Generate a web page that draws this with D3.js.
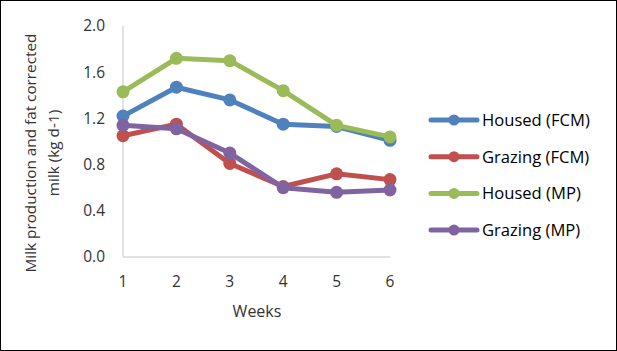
<!DOCTYPE html>
<html><head><meta charset="utf-8">
<script src="https://cdn.jsdelivr.net/npm/d3@7"></script>
<style>body{margin:0;background:#fff;}svg{display:block;font-family:"Open Sans",Calibri,sans-serif;}</style>
</head><body>
<script>
const weeks = [1,2,3,4,5,6];
const seriesNames = ["Housed (FCM)","Grazing (FCM)","Housed (MP)","Grazing (MP)"];
const housedFCM = [1.22,1.47,1.36,1.15,1.13,1.01];
const grazingFCM = [1.05,1.15,0.81,0.61,0.72,0.67];
const housedMP = [1.43,1.72,1.70,1.44,1.14,1.04];
const grazingMP = [1.14,1.11,0.90,0.60,0.56,0.58];
const yTicks = [0.0,0.4,0.8,1.2,1.6,2.0];
const colors = ["#4F81BD","#C0504D","#9BBB59","#8064A2"];
const allValues = [housedFCM,grazingFCM,housedMP,grazingMP];

const W=617,H=351;
const svg=d3.select("body").append("svg").attr("width",W).attr("height",H);
svg.append("rect").attr("x",0.5).attr("y",0.5).attr("width",W-1).attr("height",H-1).attr("fill","#fff").attr("stroke","#000");

const x=d3.scalePoint().domain(weeks).range([123,390]);
const y=d3.scaleLinear().domain([0,2]).range([257,26]);
const txt="#333";

const g=svg.append("g");
g.append("line").attr("x1",x(1)).attr("x2",x(1)).attr("y1",y(2)).attr("y2",y(0)).attr("stroke","#d9d9d9").attr("stroke-width",1.5);
g.append("line").attr("x1",x(1)).attr("x2",x(6)).attr("y1",y(0)).attr("y2",y(0)).attr("stroke","#d9d9d9").attr("stroke-width",1.5);

g.selectAll(".yt").data(yTicks).join("text").attr("x",105).attr("y",d=>y(d)).attr("dy","0.35em")
 .attr("text-anchor","end").attr("font-size",15.5).attr("fill",txt).text(d=>d.toFixed(1));
g.selectAll(".xt").data(weeks).join("text").attr("x",d=>x(d)).attr("y",282).attr("dy","0.35em")
 .attr("text-anchor","middle").attr("font-size",15.5).attr("fill",txt).text(d=>d);
g.append("text").attr("x",257).attr("y",311).attr("dy","0.35em").attr("text-anchor","middle").attr("font-size",16).attr("fill",txt).text("Weeks");
const yl=g.append("text").attr("transform","translate(0,153) rotate(-90)").attr("text-anchor","middle").attr("font-size",15.3).attr("fill",txt);
yl.append("tspan").attr("x",0).attr("y",36).text("Milk production and fat corrected");
yl.append("tspan").attr("x",0).attr("y",59).text("milk (kg d-1)");

const line=d3.line().x((d,i)=>x(weeks[i])).y(d=>y(d));
allValues.forEach((vals,k)=>{
  const sg=g.append("g");
  sg.append("path").attr("d",line(vals)).attr("fill","none").attr("stroke",colors[k]).attr("stroke-width",5).attr("stroke-linejoin","round").attr("stroke-linecap","round");
  sg.selectAll("circle").data(vals).join("circle").attr("cx",(d,i)=>x(weeks[i])).attr("cy",d=>y(d)).attr("r",6.5).attr("fill",colors[k]);
});

const leg=svg.append("g");
seriesNames.forEach((n,k)=>{
  const yy=120+k*36.7;
  leg.append("line").attr("x1",431).attr("x2",477).attr("y1",yy).attr("y2",yy).attr("stroke",colors[k]).attr("stroke-width",5).attr("stroke-linecap","round");
  leg.append("circle").attr("cx",454).attr("cy",yy).attr("r",5.5).attr("fill",colors[k]);
  leg.append("text").attr("x",482).attr("y",yy).attr("dy","0.35em").attr("font-size",16.6).attr("fill","#000").text(n);
});
</script>
</body></html>
